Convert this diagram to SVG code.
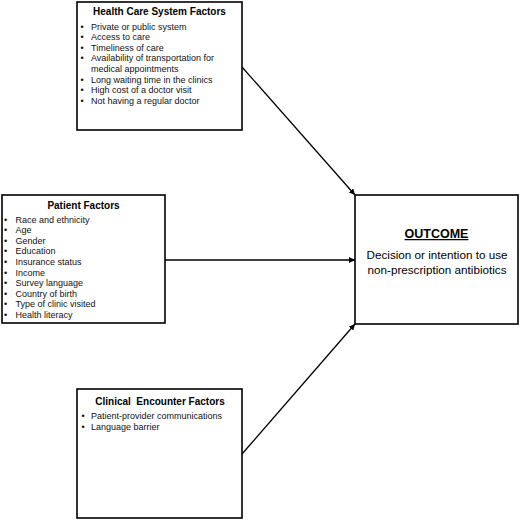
<svg xmlns="http://www.w3.org/2000/svg" width="520" height="520" viewBox="0 0 520 520">
<defs>
<marker id="ah" viewBox="0 0 10 10" refX="10" refY="5" markerWidth="6" markerHeight="6" markerUnits="userSpaceOnUse" orient="auto">
<path d="M0,0 L10,5 L0,10 Z" fill="#000"/>
</marker>
<style>
.box{fill:#fff;stroke:#000;stroke-width:1.6}
.t{font-family:"Liberation Sans",Arial,sans-serif;font-size:10px;font-weight:bold;fill:#000;text-anchor:middle;white-space:pre}
.i{font-family:"Liberation Sans",Arial,sans-serif;font-size:9px;fill:#111}
.b{font-family:"Liberation Sans",Arial,sans-serif;font-size:9px;fill:#111}
.c{fill:none;stroke:#000;stroke-width:1.3;marker-end:url(#ah)}
.o{font-family:"Liberation Sans",Arial,sans-serif;fill:#000;text-anchor:middle}
</style>
</defs>
<rect width="520" height="520" fill="#fff"/>
<g id="connectors">
<line class="c" x1="242" y1="67" x2="355" y2="195"/>
<line class="c" x1="165" y1="260" x2="355" y2="260"/>
<line class="c" x1="242" y1="454" x2="355" y2="324"/>
</g>
<g id="health-care">
<rect class="box" x="77" y="2" width="165" height="128"/>
<text class="t" x="159.5" y="14.5">Health Care System Factors</text>
<g class="b">
<text x="80.5" y="29.5">•</text><text x="80.5" y="40">•</text><text x="80.5" y="50.7">•</text><text x="80.5" y="61.3">•</text><text x="80.5" y="82.5">•</text><text x="80.5" y="93">•</text><text x="80.5" y="103.6">•</text>
</g>
<g class="i">
<text x="91" y="29.5">Private or public system</text>
<text x="91" y="40">Access to care</text>
<text x="91" y="50.7">Timeliness of care</text>
<text x="91" y="61.3">Availability of transportation for</text>
<text x="91" y="72">medical appointments</text>
<text x="91" y="82.5">Long waiting time in the clinics</text>
<text x="91" y="93">High cost of a doctor visit</text>
<text x="91" y="103.6">Not having a regular doctor</text>
</g>
</g>
<g id="patient">
<rect class="box" x="2" y="195" width="163" height="128"/>
<text class="t" x="83.5" y="208.5">Patient Factors</text>
<g class="b">
<text x="4" y="222.5">•</text><text x="4" y="233.1">•</text><text x="4" y="243.7">•</text><text x="4" y="254.3">•</text><text x="4" y="264.9">•</text><text x="4" y="275.5">•</text><text x="4" y="286.1">•</text><text x="4" y="296.7">•</text><text x="4" y="307.3">•</text><text x="4" y="317.9">•</text>
</g>
<g class="i">
<text x="15.5" y="222.5">Race and ethnicity</text>
<text x="15.5" y="233.1">Age</text>
<text x="15.5" y="243.7">Gender</text>
<text x="15.5" y="254.3">Education</text>
<text x="15.5" y="264.9">Insurance status</text>
<text x="15.5" y="275.5">Income</text>
<text x="15.5" y="286.1">Survey language</text>
<text x="15.5" y="296.7">Country of birth</text>
<text x="15.5" y="307.3">Type of clinic visited</text>
<text x="15.5" y="317.9">Health literacy</text>
</g>
</g>
<g id="outcome">
<rect class="box" x="355" y="195" width="163" height="129"/>
<text class="o" x="436.5" y="238" font-size="12.5" font-weight="bold" text-decoration="underline">OUTCOME</text>
<text class="o" x="437" y="258.5" font-size="11.7">Decision or intention to use</text>
<text class="o" x="437" y="273.5" font-size="11.7">non-prescription antibiotics</text>
</g>
<g id="clinical">
<rect class="box" x="77" y="389" width="165" height="129"/>
<text class="t" x="160" y="405">Clinical  Encounter Factors</text>
<g class="b">
<text x="81.5" y="419">•</text><text x="81.5" y="429.5">•</text>
</g>
<g class="i">
<text x="91" y="419">Patient-provider communications</text>
<text x="91" y="429.5">Language barrier</text>
</g>
</g>
</svg>
